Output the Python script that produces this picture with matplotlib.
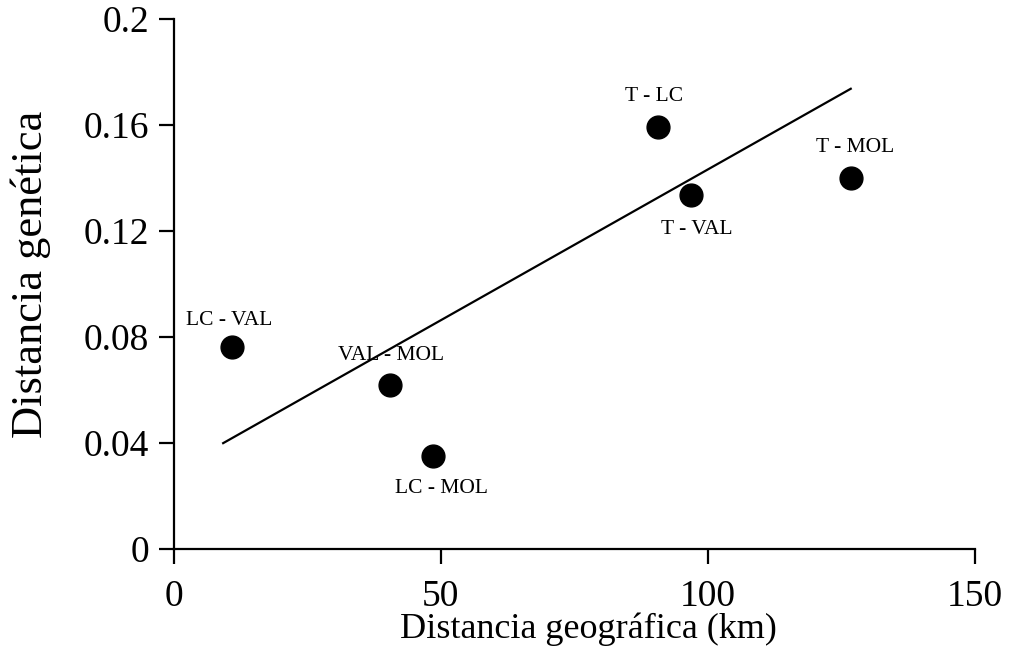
import numpy as np
import matplotlib.pyplot as plt

# Pares de poblaciones: distancia geografica (km) y distancia genetica
pares = ["LC - VAL", "VAL - MOL", "LC - MOL", "T - LC", "T - VAL", "T - MOL"]
dist_geo = [10.9, 40.5, 48.6, 90.6, 96.8, 126.8]
dist_gen = [0.0762, 0.0619, 0.0351, 0.159, 0.1336, 0.140]

# Recta de regresion (extremos)
recta_x = [9.2, 126.8]
recta_y = [0.040, 0.1736]

# desplazamiento de cada etiqueta respecto al punto (pixeles)
desp = [(-3, 27), (1, 30), (8, -32), (-3, 31), (6, -35), (4, 30)]

plt.rcParams['font.family'] = ['Liberation Serif', 'DejaVu Serif']

fig = plt.figure(figsize=(10.12, 6.69), dpi=100)
ax = fig.add_axes([0.172, 0.179, 0.791, 0.793])

ax.plot(recta_x, recta_y, color='black', linewidth=1.6)
ax.scatter(dist_geo, dist_gen, s=270, color='black', zorder=3)

for nombre, x, y, d in zip(pares, dist_geo, dist_gen, desp):
    ax.annotate(nombre, (x, y), xytext=d, textcoords='offset pixels',
                ha='center', va='center', fontsize=15.5)

ax.set_xlim(0, 150)
ax.set_ylim(0, 0.2)
ax.set_xticks([0, 50, 100, 150])
ax.set_yticks([0, 0.04, 0.08, 0.12, 0.16, 0.2])
ax.set_yticklabels(["0", "0.04", "0.08", "0.12", "0.16", "0.2"])
ax.spines['top'].set_visible(False)
ax.spines['right'].set_visible(False)
for s in ['left', 'bottom']:
    ax.spines[s].set_linewidth(1.6)
ax.tick_params(direction='out', length=11, width=1.6, labelsize=27, pad=7)
ax.tick_params(axis='x', pad=11)
ax.set_xlabel("Distancia geográfica (km)", fontsize=26)
ax.set_ylabel("Distancia genética", fontsize=32)
ax.xaxis.set_label_coords(0.5175, -0.12)
ax.yaxis.set_label_coords(-0.154, 0.518)

fig.savefig("out.png", dpi=100)
